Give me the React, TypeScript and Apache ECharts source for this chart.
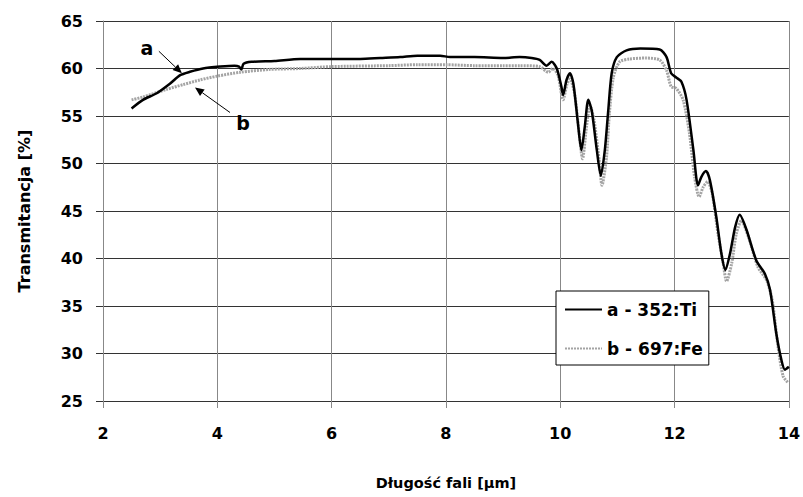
import React, { useEffect, useRef } from "react";
import * as echarts from "echarts";

// Wavelength [µm] and transmittance [%] for sample a (352:Ti)
const waveA = [
  2.5, 2.7, 2.94, 3.17, 3.35, 3.52, 3.75, 4.05, 4.3, 4.38, 4.42, 4.46, 4.6, 5.0, 5.45, 6.0, 6.5, 6.85,
  7.2, 7.5, 7.9, 8.07, 8.5, 9.0, 9.29, 9.5, 9.64, 9.76, 9.85, 9.94, 10.02, 10.05, 10.11, 10.17, 10.23,
  10.31, 10.37, 10.43, 10.49, 10.55, 10.64, 10.71, 10.78, 10.84, 10.9, 10.99, 11.16, 11.4, 11.74, 11.86,
  11.94, 12.03, 12.12, 12.21, 12.33, 12.41, 12.47, 12.55, 12.62, 12.73, 12.82, 12.89, 12.97, 13.06,
  13.14, 13.26, 13.43, 13.58, 13.67, 13.78, 13.87, 13.93, 14.0,
];
const transA = [
  55.8, 56.7, 57.4, 58.4, 59.3, 59.65, 60.0, 60.2, 60.3, 60.2, 59.9, 60.5, 60.7, 60.8, 61.0, 61.0, 61.0, 61.1,
  61.2, 61.35, 61.35, 61.2, 61.2, 61.1, 61.2, 61.1, 60.9, 60.3, 60.7, 60.0, 58.1, 57.2, 58.8, 59.5, 58.4,
  54.2, 51.4, 53.9, 56.7, 55.6, 51.4, 48.7, 51.4, 55.6, 59.5, 61.2, 61.9, 62.1, 62.0, 61.2,
  59.5, 59.05, 58.6, 56.7, 51.4, 47.7, 48.6, 49.2, 48.2, 44.4, 40.5, 38.8, 40.5, 43.3,
  44.6, 43.0, 39.8, 38.4, 36.7, 32.1, 29.3, 28.3, 28.6,
];

// Wavelength [µm] and transmittance [%] for sample b (697:Fe)
const waveB = [
  2.5, 2.7, 3.11, 3.4, 3.7, 4.0, 4.4, 4.9, 5.45, 6.0, 7.0, 7.5, 8.0, 8.5, 9.0, 9.29, 9.64, 9.79, 9.87,
  9.96, 10.05, 10.12, 10.17, 10.25, 10.33, 10.39, 10.46, 10.52, 10.59, 10.68, 10.73, 10.81, 10.86, 10.93,
  11.04, 11.21, 11.5, 11.74, 11.86, 11.94, 12.03, 12.15, 12.26, 12.35, 12.43, 12.5, 12.58, 12.66, 12.76,
  12.85, 12.91, 13.0, 13.08, 13.17, 13.29, 13.46, 13.61, 13.71, 13.81, 13.9, 13.99,
];
const transB = [
  56.7, 57.0, 57.8, 58.3, 58.8, 59.2, 59.6, 59.9, 60.0, 60.2, 60.3, 60.4, 60.4, 60.3, 60.3, 60.3, 60.2, 59.6, 60.0,
  59.3, 56.7, 58.4, 58.9, 57.4, 53.2, 50.5, 53.9, 56.1, 54.6, 50.4, 47.7, 50.7, 55.3, 59.1,
  60.7, 61.0, 61.1, 60.9, 59.8, 58.1, 57.9, 56.7, 53.2, 48.6, 46.5, 47.5, 48.1, 46.8, 42.6,
  39.5, 37.6, 39.5, 42.6, 44.0, 42.3, 39.1, 37.7, 35.6, 30.7, 27.6, 26.9,
];

const seriesNames = ["a - 352:Ti", "b - 697:Fe"];
const xTicks = { min: 2, max: 14, interval: 2 };
const yTicks = { min: 25, max: 65, interval: 5 };

// Points on the curves that the "a" and "b" callout arrows point to
const calloutA = [3.38, 59.5];
const calloutB = [3.61, 58.0];

const FONT = "'DejaVu Sans', sans-serif";

function zip(xs: number[], ys: number[]) {
  return xs.map((x, i) => [x, ys[i]]);
}

function arrow(from: number[], tip: number[]) {
  const dx = tip[0] - from[0];
  const dy = tip[1] - from[1];
  const len = Math.hypot(dx, dy);
  const ux = dx / len;
  const uy = dy / len;
  const headLen = 9;
  const halfW = 4;
  const bx = tip[0] - ux * headLen;
  const by = tip[1] - uy * headLen;
  return [
    {
      type: "line",
      shape: { x1: from[0], y1: from[1], x2: bx, y2: by },
      style: { stroke: "#000", lineWidth: 1 },
      silent: true,
    },
    {
      type: "polygon",
      shape: {
        points: [
          [tip[0], tip[1]],
          [bx - uy * halfW, by + ux * halfW],
          [bx + uy * halfW, by - ux * halfW],
        ],
      },
      style: { fill: "#000" },
      silent: true,
    },
  ];
}

export default function App() {
  const ref = useRef<HTMLDivElement>(null);

  useEffect(() => {
    document.body.style.margin = "0";
    const chart = echarts.init(ref.current!, null, { renderer: "svg" });
    chart.setOption({
      animation: false,
      backgroundColor: "#fff",
      grid: { left: 103, right: 14, top: 21, bottom: 96 },
      xAxis: {
        type: "value",
        ...xTicks,
        name: "Długość fali [µm]",
        nameLocation: "middle",
        nameGap: 74,
        nameTextStyle: { fontFamily: FONT, fontWeight: "bold", fontSize: 14.5, color: "#000" },
        axisLine: { show: true, onZero: false, lineStyle: { color: "#333", width: 1 } },
        axisTick: { show: true, inside: false, length: 7, lineStyle: { color: "#888" } },
        axisLabel: { margin: 24, fontFamily: FONT, fontWeight: "bold", fontSize: 16, color: "#000" },
        splitLine: { show: true, lineStyle: { color: "#888", width: 1 } },
      },
      yAxis: {
        type: "value",
        ...yTicks,
        name: "Transmitancja [%]",
        nameLocation: "middle",
        nameGap: 71,
        nameTextStyle: { fontFamily: FONT, fontWeight: "bold", fontSize: 16, color: "#000" },
        axisLine: { show: true, onZero: false, lineStyle: { color: "#888", width: 1 } },
        axisTick: { show: true, inside: false, length: 7, lineStyle: { color: "#333" } },
        axisLabel: { margin: 20, fontFamily: FONT, fontWeight: "bold", fontSize: 16, color: "#000" },
        splitLine: { show: true, lineStyle: { color: "#333", width: 1 } },
      },
      legend: {
        left: 556,
        top: 291,
        orient: "vertical",
        backgroundColor: "#fff",
        borderColor: "#000",
        borderWidth: 1,
        borderRadius: 0,
        padding: [10, 6, 8, 8],
        itemWidth: 37,
        itemHeight: 14,
        itemGap: 22,
        itemStyle: { opacity: 0 },
        textStyle: { fontFamily: FONT, fontWeight: "bold", fontSize: 17, color: "#000" },
        data: seriesNames,
      },
      series: [
        {
          name: seriesNames[1],
          type: "line",
          data: zip(waveB, transB),
          symbol: "none",
          smooth: 0.25,
          lineStyle: { color: "#a4a4a4", width: 3, type: [2, 1] },
          itemStyle: { color: "#a4a4a4" },
          z: 2,
        },
        {
          name: seriesNames[0],
          type: "line",
          data: zip(waveA, transA),
          symbol: "none",
          smooth: 0.25,
          lineStyle: { color: "#000", width: 2.5 },
          itemStyle: { color: "#000" },
          z: 3,
        },
      ],
    });

    const tipA = chart.convertToPixel({ gridIndex: 0 }, calloutA) as number[];
    const tipB = chart.convertToPixel({ gridIndex: 0 }, calloutB) as number[];
    chart.setOption({
      graphic: [
        ...arrow([tipA[0] - 23, tipA[1] - 22], tipA),
        ...arrow([tipB[0] + 35, tipB[1] + 25], tipB),
        {
          type: "text",
          x: tipA[0] - 35,
          y: tipA[1] - 25,
          style: {
            text: "a",
            fontFamily: FONT,
            fontWeight: "bold",
            fontSize: 19,
            fill: "#000",
            align: "center",
            verticalAlign: "middle",
          },
        },
        {
          type: "text",
          x: tipB[0] + 48,
          y: tipB[1] + 35,
          style: {
            text: "b",
            fontFamily: FONT,
            fontWeight: "bold",
            fontSize: 19,
            fill: "#000",
            align: "center",
            verticalAlign: "middle",
          },
        },
      ],
    });

    return () => chart.dispose();
  }, []);

  return (
    <div
      ref={ref}
      style={{ position: "fixed", left: 0, top: 0, width: 803, height: 497 }}
    />
  );
}
